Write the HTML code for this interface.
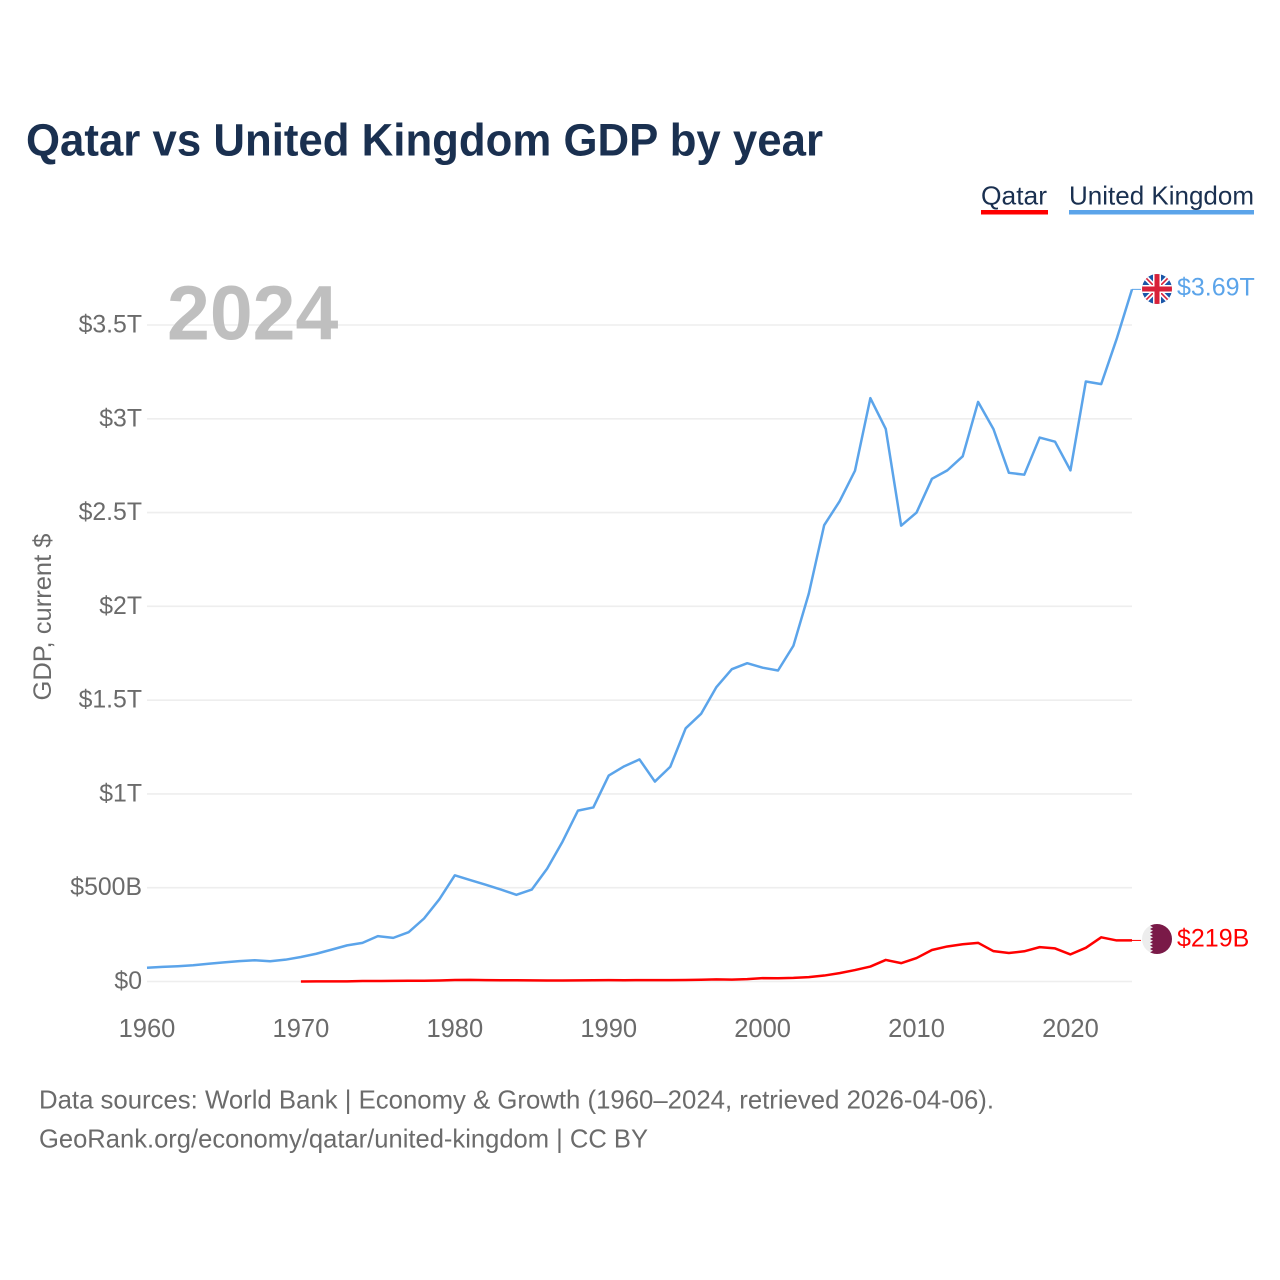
<!DOCTYPE html>
<html lang="en">
<head>
<meta charset="utf-8">
<title>Qatar vs United Kingdom GDP by year</title>
<style>
html,body{margin:0;padding:0;background:#fff;width:1280px;height:1280px;overflow:hidden}
svg{display:block}
text{font-family:"Liberation Sans",sans-serif}
</style>
</head>
<body>
<svg id="chart" xmlns="http://www.w3.org/2000/svg" width="1280" height="1280" viewBox="0 0 1280 1280">
  <defs>
    <clipPath id="uk-clip"><circle cx="1157" cy="289" r="15"/></clipPath>
    <clipPath id="qa-clip"><circle cx="1157" cy="939" r="15"/></clipPath>
  </defs>
  <text x="26" y="155.5" font-size="45" font-weight="700" fill="#1a3050" textLength="797" lengthAdjust="spacingAndGlyphs">Qatar vs United Kingdom GDP by year</text>

  <g>
    <text x="981" y="204.5" font-size="26" fill="#1a3050" textLength="66" lengthAdjust="spacingAndGlyphs">Qatar</text>
    <rect x="981" y="210" width="67" height="4.5" fill="#ff0000"/>
  </g>
  <g>
    <text x="1069" y="204.5" font-size="26" fill="#1a3050" textLength="185" lengthAdjust="spacingAndGlyphs">United Kingdom</text>
    <rect x="1069" y="210" width="185" height="4.5" fill="#5ba4ea"/>
  </g>

  <g id="grid"></g>
  <g id="y-ticks"></g>
  <g id="x-ticks"></g>

  <text transform="translate(51,617) rotate(-90)" text-anchor="middle" font-size="25" fill="#6b6b6b" textLength="167" lengthAdjust="spacingAndGlyphs">GDP, current $</text>
  <text x="167" y="339.5" font-size="77" font-weight="700" fill="#bfbfbf">2024</text>

  <g id="series"></g>

  <g clip-path="url(#uk-clip)">
    <rect x="1142" y="274" width="30" height="30" fill="#1a56a8"/>
    <path d="M1142 274L1172 304M1172 274L1142 304" stroke="#fff" stroke-width="5"/>
    <path d="M1142 274L1172 304M1172 274L1142 304" stroke="#d8213a" stroke-width="1.6"/>
    <path d="M1157 274V304M1142 289H1172" stroke="#fff" stroke-width="8"/>
    <path d="M1157 274V304M1142 289H1172" stroke="#d8213a" stroke-width="5"/>
  </g>
  <g clip-path="url(#qa-clip)">
    <rect x="1142" y="924" width="30" height="30" fill="#ededed"/>
    <polygon fill="#7a1a48" points="1153,924 1150,925.7 1153,927.3 1150,929 1153,930.7 1150,932.3 1153,934 1150,935.7 1153,937.3 1150,939 1153,940.7 1150,942.3 1153,944 1150,945.7 1153,947.3 1150,949 1153,950.7 1150,952.3 1153,954 1172,954 1172,924"/>
  </g>
  <text id="label-uk" x="1177" y="295.5" font-size="25" fill="#5ba4ea"></text>
  <text id="label-qa" x="1177" y="946.5" font-size="25" fill="#ff0000"></text>

  <g>
    <text x="39" y="1108.5" font-size="26" fill="#6b6b6b" textLength="955" lengthAdjust="spacingAndGlyphs">Data sources: World Bank | Economy &amp; Growth (1960–2024, retrieved 2026-04-06).</text>
    <text x="39" y="1147.5" font-size="26" fill="#6b6b6b" textLength="609" lengthAdjust="spacingAndGlyphs">GeoRank.org/economy/qatar/united-kingdom | CC BY</text>
  </g>
</svg>
<script>
// Chart data (GDP in US$ billions)
const ukStartYear = 1960;
const qatarStartYear = 1970;
const ukValues = [73,77.7,81.6,86.6,94.4,101.8,108.6,113,107.8,116.4,130.7,148,169.9,192.5,206.1,241.8,232.6,263.1,335.9,438.9,566,541,516,490,462,490,602,746,911,928,1098,1147,1184,1066,1145,1350,1427,1570,1665,1697,1673,1658,1790,2068,2433,2560,2723,3110,2946,2430,2500,2680,2725,2800,3090,2945,2712,2702,2900,2878,2725,3199,3185,3425,3690];
const qatarValues = [0.3,0.39,0.53,0.85,2.4,2.5,3.3,3.8,4.1,5.6,7.8,8.7,7.6,6.5,6.6,6.2,5.2,5.4,6,6.5,7.4,7,7.6,7.2,7.4,8.1,9.1,11.3,10.3,12.4,17.8,17.5,19.4,23.5,31.7,44.5,60.9,79.7,115,97.8,125,167.8,186.8,198.7,206.2,161.7,151.7,161.1,183.3,176.4,144.4,179.7,235.7,219,219];
const yTickValues = [0,500,1000,1500,2000,2500,3000,3500];
const yTickLabels = ["$0","$500B","$1T","$1.5T","$2T","$2.5T","$3T","$3.5T"];
const xTickValues = [1960,1970,1980,1990,2000,2010,2020];
const xTickLabels = ["1960","1970","1980","1990","2000","2010","2020"];
const ukEndLabel = "$3.69T";
const qatarEndLabel = "$219B";

const NS = "http://www.w3.org/2000/svg";
const xLeft = 147, xRight = 1132, xMin = 1960, xMax = 2024;
const yZero = 981.5, pxPerBillion = 0.18757;
function xScale(year){ return xLeft + (year - xMin) * (xRight - xLeft) / (xMax - xMin); }
function yScale(v){ return yZero - v * pxPerBillion; }
function make(tag, attrs, parent){
  const el = document.createElementNS(NS, tag);
  for (const k in attrs) el.setAttribute(k, attrs[k]);
  parent.appendChild(el);
  return el;
}
function linePoints(values, startYear){
  return values.map(function(v, i){ return xScale(startYear + i).toFixed(2) + "," + yScale(v).toFixed(2); }).join(" ");
}

const grid = document.getElementById("grid");
const yTicks = document.getElementById("y-ticks");
yTickValues.forEach(function(v, i){
  const line = make("line", {x1: xLeft, x2: xRight, y1: yScale(v), y2: yScale(v), stroke: "#eeeeee", "stroke-width": 1.6}, grid);
  
  
  const t = make("text", {x: 142, y: yScale(v) + 7.5, "text-anchor": "end", "font-size": 24.8, fill: "#6b6b6b"}, yTicks);
  t.textContent = yTickLabels[i];
  
  
});

const xTicks = document.getElementById("x-ticks");
xTickValues.forEach(function(v, i){
  const t = make("text", {x: xScale(v), y: 1037, "text-anchor": "middle", "font-size": 25.5, fill: "#6b6b6b"}, xTicks);
  t.textContent = xTickLabels[i];
  
  
});

const series = document.getElementById("series");
const ukLine = make("polyline", {points: linePoints(ukValues, ukStartYear), fill: "none", stroke: "#5ba4ea", "stroke-width": 2.5, "stroke-linejoin": "round"}, series);


const qaLine = make("polyline", {points: linePoints(qatarValues, qatarStartYear), fill: "none", stroke: "#ff0000", "stroke-width": 2.5, "stroke-linejoin": "round"}, series);



const ukLast = yScale(ukValues[ukValues.length - 1]);
const qaLast = yScale(qatarValues[qatarValues.length - 1]);
const ukLead = make("line", {x1: xRight, x2: 1141, y1: ukLast, y2: ukLast, stroke: "#5ba4ea", "stroke-width": 1}, series);


const qaLead = make("line", {x1: xRight, x2: 1141, y1: qaLast, y2: qaLast, stroke: "#ff0000", "stroke-width": 1}, series);



document.getElementById("label-uk").textContent = ukEndLabel;
document.getElementById("label-qa").textContent = qatarEndLabel;
</script>
</body>
</html>
